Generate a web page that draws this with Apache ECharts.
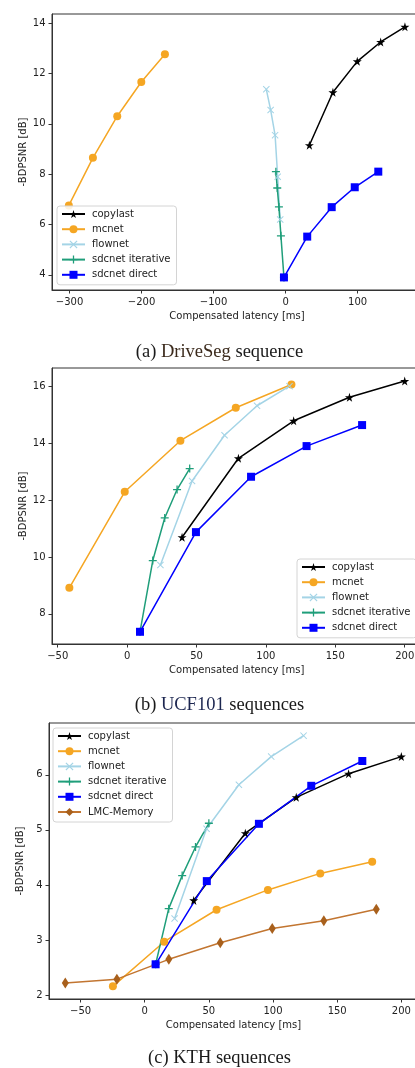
<!DOCTYPE html>
<html><head><meta charset="utf-8">
<script src="https://cdn.jsdelivr.net/npm/echarts@6/dist/echarts.min.js"></script>
<style>html,body{margin:0;padding:0;background:#fff}#c{width:415px;height:1068px}</style>
</head><body><div id="c"></div>
<script>
// ---------- data ----------
const seriesNames = ['copylast','mcnet','flownet','sdcnet iterative','sdcnet direct','LMC-Memory'];
const yAxisTitle = '-BDPSNR [dB]';
const xAxisTitle = 'Compensated latency [ms]';
const captionA = ['(a) ', 'DriveSeg', ' sequence'];
const captionB = ['(b) ', 'UCF101', ' sequences'];
const captionC = ['(c) ', 'KTH', ' sequences'];

// (a) DriveSeg
const aXTicks = [-300,-200,-100,0,100];
const aYTicks = [4,6,8,10,12,14];
const aCopylast = [[33,9.15],[65.7,11.25],[99.5,12.48],[132,13.25],[165.7,13.85]];
const aMcnet = [[-301,6.76],[-267.6,8.65],[-233.8,10.3],[-200.4,11.66],[-167.6,12.76]];
const aFlownet = [[-7.5,6.2],[-11,7.9],[-14.6,9.55],[-20.8,10.55],[-26.8,11.37]];
const aSdcIter = [[-2.3,3.9],[-6.5,5.55],[-9.3,6.7],[-11.6,7.45],[-13.5,8.1]];
const aSdcDirect = [[-2.3,3.9],[30,5.52],[64,6.69],[96,7.48],[128.7,8.1]];

// (b) UCF101
const bXTicks = [-50,0,50,100,150,200];
const bYTicks = [8,10,12,14,16];
const bCopylast = [[39.6,10.7],[80.2,13.48],[120,14.8],[160.2,15.63],[200,16.2]];
const bMcnet = [[-41.6,8.92],[-1.7,12.3],[38.4,14.1],[78.3,15.26],[118.4,16.08]];
const bFlownet = [[24,9.72],[46.8,12.68],[70.2,14.29],[93.6,15.33],[117,16.02]];
const bSdcIter = [[9.3,7.37],[18.5,9.88],[27.1,11.38],[36,12.38],[45.1,13.12]];
const bSdcDirect = [[9.3,7.37],[49.6,10.88],[89.3,12.83],[129.3,13.91],[169.3,14.65]];

// (c) KTH
const cXTicks = [-50,0,50,100,150,200];
const cYTicks = [2,3,4,5,6];
const cCopylast = [[38.2,3.72],[78.4,4.94],[118.1,5.59],[158.9,6.02],[200,6.33]];
const cMcnet = [[-24.8,2.16],[15.2,2.97],[56,3.55],[96,3.91],[136.8,4.21],[177.3,4.42]];
const cFlownet = [[23.3,3.39],[48.2,5.02],[73.4,5.82],[98.6,6.33],[123.8,6.71]];
const cSdcIter = [[8.5,2.56],[18.7,3.57],[29.2,4.17],[39.6,4.69],[50,5.12]];
const cSdcDirect = [[8.5,2.56],[48.4,4.07],[89,5.11],[129.8,5.8],[169.6,6.25]];
const cLmc = [[-61.9,2.22],[-21.7,2.29],[18.8,2.65],[58.9,2.95],[99.4,3.21],[139.6,3.35],[180.5,3.56]];

// ---------- styles ----------
const FONT = 'DejaVu Sans';
const INK = '#222';
const SPINE = '#333';
const STAR = 'path://M50,0L61,35L98,35L68,57L79,91L50,70L21,91L32,57L2,35L39,35Z';
const PLUS = 'path://M4.2,0H5.8V4.2H10V5.8H5.8V10H4.2V5.8H0V4.2H4.2Z';
const CROSS = 'path://M1,0L5,4L9,0L10,1L6,5L10,9L9,10L5,6L1,10L0,9L4,5L0,1Z';
const styleOf = {
  'copylast': {line:'#000000', mark:'#000000', symbol:STAR, size:9},
  'mcnet': {line:'#F5A623', mark:'#F5A623', symbol:'circle', size:8},
  'flownet': {line:'#A4D4E6', mark:'#A4D4E6', symbol:CROSS, size:7},
  'sdcnet iterative': {line:'#1F9E7A', mark:'#1F9E7A', symbol:PLUS, size:8},
  'sdcnet direct': {line:'#0000FF', mark:'#0000FF', symbol:'rect', size:8},
  'LMC-Memory': {line:'#C27530', mark:'#A8601C', symbol:'diamond', size:[7,11]}
};

const fmt = v => (v < 0 ? '\u2212' + Math.abs(v) : String(v));

function xAxis(i, min, max, ticks) {
  return {
    gridIndex: i, type: 'value', min: min, max: max,
    axisLine: {onZero: false, lineStyle: {color: SPINE, width: 1}},
    axisTick: {customValues: ticks, length: 3.5, lineStyle: {color: SPINE, width: 1}},
    axisLabel: {customValues: ticks, formatter: fmt, fontSize: 10, fontFamily: FONT, color: INK, margin: 7},
    splitLine: {show: false},
    name: xAxisTitle, nameLocation: 'middle', nameGap: 21, nameMoveOverlap: false,
    nameTextStyle: {fontSize: 10, fontFamily: FONT, color: INK}
  };
}
function yAxis(i, min, max, ticks) {
  return {
    gridIndex: i, type: 'value', min: min, max: max,
    axisLine: {onZero: false, lineStyle: {color: SPINE, width: 1}},
    axisTick: {customValues: ticks, length: 3.5, lineStyle: {color: SPINE, width: 1}},
    axisLabel: {customValues: ticks, formatter: fmt, fontSize: 10, fontFamily: FONT, color: INK, margin: 6.5},
    splitLine: {show: false},
    name: yAxisTitle, nameLocation: 'middle', nameGap: 24, nameMoveOverlap: false,
    nameTextStyle: {fontSize: 10, fontFamily: FONT, color: INK}
  };
}
function line(i, name, data) {
  const s = styleOf[name];
  return {
    type: 'line', name: name, xAxisIndex: i, yAxisIndex: i, data: data,
    symbol: s.symbol, symbolSize: s.size, showAllSymbol: true,
    lineStyle: {color: s.line, width: 1.5},
    itemStyle: {color: s.mark, borderWidth: 0},
    emphasis: {disabled: true}, animation: false
  };
}
function legend(left, top, names) {
  return {
    orient: 'vertical', left: left, top: top, data: names, selectedMode: false,
    itemWidth: 23, itemHeight: 10, itemGap: 5.2,
    padding: [3, 6, 5, 4],
    backgroundColor: 'rgba(255,255,255,0.85)', borderColor: '#d4d4d4', borderWidth: 1, borderRadius: 3,
    textStyle: {fontSize: 10, fontFamily: FONT, color: INK, lineHeight: 10, padding: [0, 0, 0, 2]}
  };
}
function caption(y, parts, midColor) {
  return {
    type: 'text', x: 219.5, y: y,
    style: {
      text: '{a|' + parts[0] + '}{b|' + parts[1] + '}{a|' + parts[2] + '}',
      align: 'center', verticalAlign: 'middle', textAlign: 'center', textVerticalAlign: 'middle',
      rich: {
        a: {fontSize: 18.5, fontFamily: 'Liberation Serif', fill: '#1a1a1a', color: '#1a1a1a'},
        b: {fontSize: 18.5, fontFamily: 'Liberation Serif', fill: midColor, color: midColor}
      }
    }
  };
}

const gridBase = {show: true, borderColor: SPINE, borderWidth: 1, backgroundColor: 'transparent', containLabel: false, outerBoundsMode: 'none'};
const option = {
  animation: false,
  backgroundColor: '#ffffff',
  grid: [
    Object.assign({left: 52, top: 14, width: 370, height: 276}, gridBase),
    Object.assign({left: 52, top: 368, width: 369.5, height: 276}, gridBase),
    Object.assign({left: 49, top: 723, width: 369, height: 276}, gridBase)
  ],
  xAxis: [
    xAxis(0, -324.4, 189.4, aXTicks),
    xAxis(1, -54.1, 212.1, bXTicks),
    xAxis(2, -74.6, 213, cXTicks)
  ],
  yAxis: [
    yAxis(0, 3.4, 14.36, aYTicks),
    yAxis(1, 6.94, 16.66, bYTicks),
    yAxis(2, 1.93, 6.94, cYTicks)
  ],
  legend: [
    legend(57, 206, seriesNames.slice(0, 5)),
    legend(297, 559, seriesNames.slice(0, 5)),
    legend(53, 728, seriesNames)
  ],
  series: [
    line(0, 'copylast', aCopylast), line(0, 'mcnet', aMcnet), line(0, 'flownet', aFlownet),
    line(0, 'sdcnet iterative', aSdcIter), line(0, 'sdcnet direct', aSdcDirect),
    line(1, 'copylast', bCopylast), line(1, 'mcnet', bMcnet), line(1, 'flownet', bFlownet),
    line(1, 'sdcnet iterative', bSdcIter), line(1, 'sdcnet direct', bSdcDirect),
    line(2, 'copylast', cCopylast), line(2, 'mcnet', cMcnet), line(2, 'flownet', cFlownet),
    line(2, 'sdcnet iterative', cSdcIter), line(2, 'sdcnet direct', cSdcDirect), line(2, 'LMC-Memory', cLmc)
  ],
  graphic: [
    caption(351.7, captionA, '#3b2a1c'),
    caption(705, captionB, '#1c2650'),
    caption(1058.3, captionC, '#1a1a1a')
  ]
};
const chart = echarts.init(document.getElementById('c'), null, {renderer: 'canvas'});
chart.setOption(option);
</script></body></html>
